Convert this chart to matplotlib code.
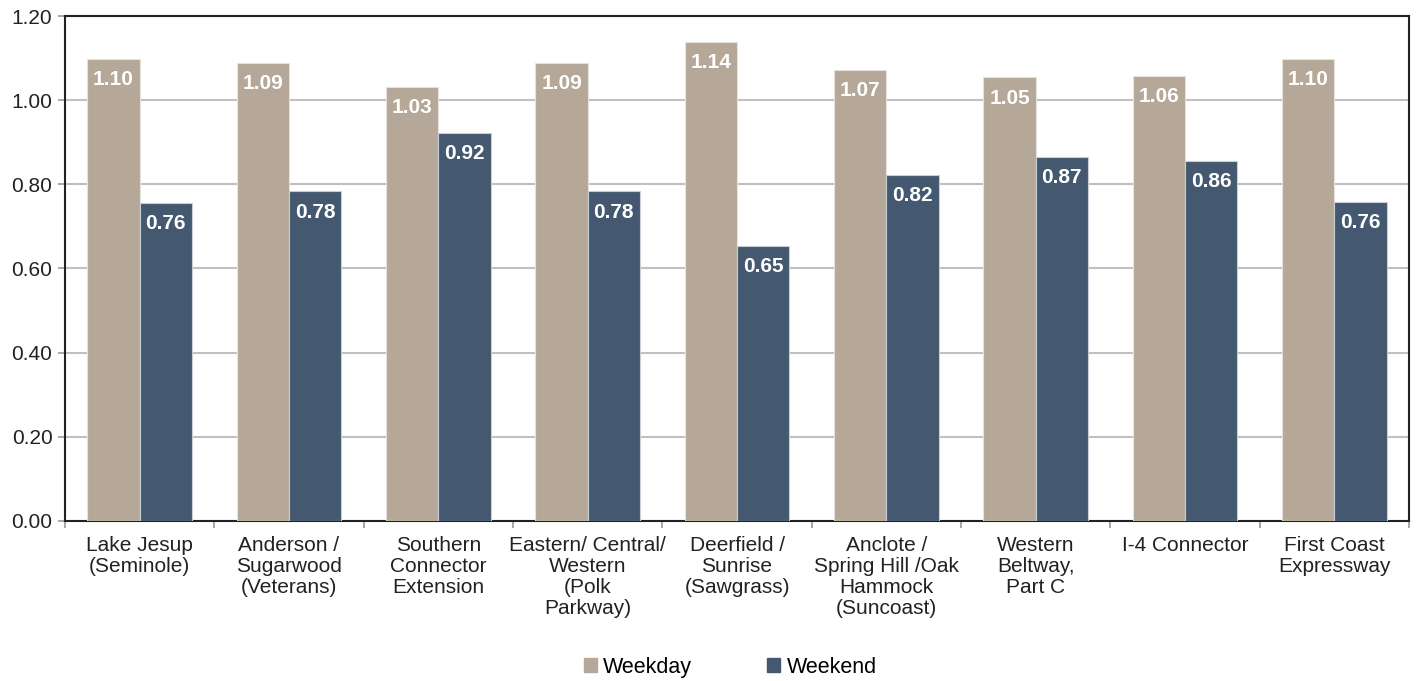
import matplotlib.pyplot as plt
import numpy as np
from matplotlib.patches import Patch

plt.rcParams['font.family'] = ['Liberation Sans', 'DejaVu Sans']

categories = [
    "Lake Jesup\n(Seminole)",
    "Anderson /\nSugarwood\n(Veterans)",
    "Southern\nConnector\nExtension",
    "Eastern/ Central/\nWestern\n(Polk\nParkway)",
    "Deerfield /\nSunrise\n(Sawgrass)",
    "Anclote /\nSpring Hill /Oak\nHammock\n(Suncoast)",
    "Western\nBeltway,\nPart C",
    "I-4 Connector",
    "First Coast\nExpressway",
]
weekday = [1.098, 1.088, 1.031, 1.088, 1.138, 1.071, 1.054, 1.058, 1.097]
weekend = [0.756, 0.783, 0.923, 0.783, 0.653, 0.823, 0.866, 0.856, 0.759]

C_WEEKDAY = "#b5a898"
C_WEEKEND = "#44596f"

fig = plt.figure(figsize=(14.18, 6.81), dpi=100)
ax = fig.add_axes([0.0458, 0.235, 0.9479, 0.7415])

x = np.arange(len(categories))
w = 0.35
b1 = ax.bar(x - w / 2, weekday, w, color=C_WEEKDAY, edgecolor="#e6e1da", linewidth=0.8, zorder=3)
b2 = ax.bar(x + w / 2, weekend, w, color=C_WEEKEND, edgecolor="#c9ced6", linewidth=0.8, zorder=3)

for bars, vals in ((b1, weekday), (b2, weekend)):
    for rect, v in zip(bars, vals):
        ax.annotate(f"{v:.2f}", (rect.get_x() + rect.get_width() / 2, v),
                    xytext=(0, -8), textcoords="offset points",
                    ha="center", va="top", color="white",
                    fontsize=15, fontweight="bold", zorder=4)

ax.set_ylim(0, 1.2)
ax.set_xlim(-0.5, len(categories) - 0.5)
ax.set_yticks(np.arange(0, 1.21, 0.2))
ax.set_yticklabels([f"{t:.2f}" for t in np.arange(0, 1.21, 0.2)], fontsize=15, color="#222222")
ax.yaxis.grid(True, color="#c0c0c4", linewidth=1.5, zorder=0)
ax.tick_params(axis="y", length=5, color="#999999", width=1.2, pad=4)

# category labels centred, ticks on the boundaries
ax.set_xticks(x)
ax.set_xticklabels(categories, fontsize=15, color="#222222", linespacing=1.13)
ax.tick_params(axis="x", which="major", length=0, pad=11)
ax.set_xticks(np.arange(-0.5, len(categories), 1.0), minor=True)
ax.tick_params(axis="x", which="minor", length=5, color="#999999", width=1.2)

for s in ax.spines.values():
    s.set_color("#222222")
    s.set_linewidth(1.5)

handles = [Patch(color=C_WEEKDAY, label="Weekday"), Patch(color=C_WEEKEND, label="Weekend")]
fig.legend(handles=handles, loc="center", bbox_to_anchor=(0.515, 0.02), ncol=2,
           frameon=False, fontsize=15.5, handlelength=0.6, handleheight=0.6,
           handletextpad=0.3, columnspacing=3.5)

plt.savefig("out.png", dpi=100)
